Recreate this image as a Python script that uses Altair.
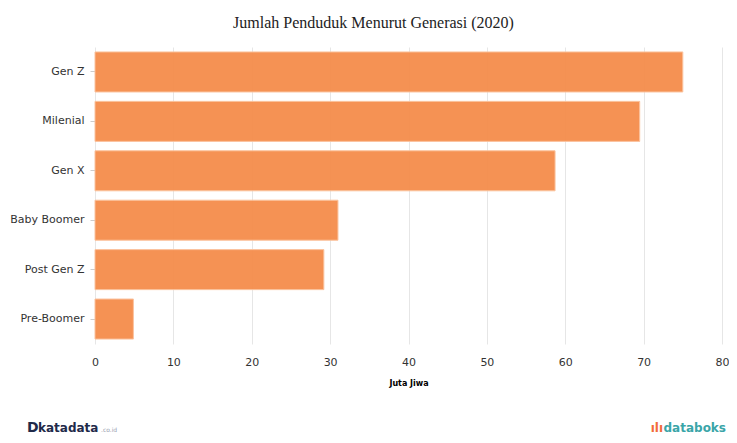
import altair as alt
import pandas as pd

categories = ["Gen Z", "Milenial", "Gen X", "Baby Boomer", "Post Gen Z", "Pre-Boomer"]
values = [75.0, 69.5, 58.7, 31.0, 29.2, 4.9]
x_ticks = [0, 10, 20, 30, 40, 50, 60, 70, 80]

df = pd.DataFrame({"Generasi": categories, "Juta Jiwa": values})

W, H = 627, 297

bars = alt.Chart(df).mark_bar(
    color="#f58f4f", stroke="#fbc29c", strokeWidth=1, opacity=0.97
).encode(
    y=alt.Y("Generasi:N", sort=categories,
            scale=alt.Scale(paddingInner=0.19, paddingOuter=0.1),
            axis=alt.Axis(title=None, labelFont="DejaVu Sans", labelFontSize=11,
                          labelColor="#333333", tickColor="#cccccc", tickSize=5,
                          labelPadding=6, domain=False, grid=False)),
    x=alt.X("Juta Jiwa:Q",
            scale=alt.Scale(domain=[0, 80], nice=False),
            axis=alt.Axis(values=x_ticks, title="Juta Jiwa", titleFont="DejaVu Sans",
                          titleFontSize=8, titleFontWeight="bold", titleColor="#000000",
                          titlePadding=12, labelFlush=False,
                          labelFont="DejaVu Sans", labelFontSize=11, labelColor="#333333",
                          labelPadding=12,
                          domain=False, ticks=False, grid=True, gridColor="#e6e6e6",
                          gridWidth=1)),
)

LY = 381
logo_d = alt.Chart(pd.DataFrame({"t": ["D"]})).mark_text(
    font="DejaVu Sans", fontSize=14, fontWeight="bold", color="#1f2a4a", align="left", baseline="middle"
).encode(text="t:N", x=alt.value(-68), y=alt.value(LY))
logo_k = alt.Chart(pd.DataFrame({"t": ["katadata"]})).mark_text(
    font="DejaVu Sans", fontSize=12, fontWeight="bold", color="#1f2a4a", align="left", baseline="middle"
).encode(text="t:N", x=alt.value(-57), y=alt.value(LY))
logo_c = alt.Chart(pd.DataFrame({"t": [".co.id"]})).mark_text(
    font="DejaVu Sans", fontSize=6, color="#9aa0b0", align="left", baseline="middle"
).encode(text="t:N", x=alt.value(6), y=alt.value(LY + 2))
logo_icon = alt.Chart(pd.DataFrame({"t": ["ılı"]})).mark_text(
    font="DejaVu Sans", fontSize=12, fontWeight="bold", color="#f26b3a", align="right", baseline="middle"
).encode(text="t:N", x=alt.value(568), y=alt.value(LY))
logo_db = alt.Chart(pd.DataFrame({"t": ["databoks"]})).mark_text(
    font="DejaVu Sans", fontSize=12, fontWeight="bold", color="#3aa5a8", align="right", baseline="middle"
).encode(text="t:N", x=alt.value(631), y=alt.value(LY))

chart = alt.layer(bars, logo_d, logo_k, logo_c, logo_icon, logo_db).properties(
    width=W, height=H,
    title=alt.TitleParams(
        "Jumlah Penduduk Menurut Generasi (2020)",
        font="Liberation Serif", fontSize=16, fontWeight="normal", color="#222222",
        anchor="middle", dx=-35, offset=16
    ),
    autosize=alt.AutoSizeParams(type="none"),
    padding={"left": 87, "top": 39, "right": 7, "bottom": 91},
).configure_view(stroke=None)

chart.save("out.html", embed_options={"renderer": "svg", "actions": False})
